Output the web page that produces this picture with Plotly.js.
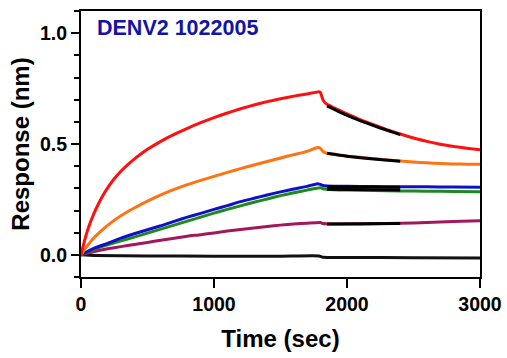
<!DOCTYPE html>
<html>
<head>
<meta charset="utf-8">
<script src="https://cdn.plot.ly/plotly-3.0.1.min.js"></script>
<style>html,body{margin:0;padding:0;background:#fff;}#chart{width:507px;height:358px;}</style>
</head>
<body>
<div id="chart"></div>
<script>
// ---- data (time in sec, response in nm) ----
var chartTitle = "DENV2 1022005";
var xTickVals = [0, 1000, 2000, 3000];
var yTickVals = [0, 0.5, 1.0];
var yTickText = ["0.0", "0.5", "1.0"];

var redT = [0, 25, 50, 100, 150, 200, 250, 300, 350, 400, 450, 500, 600, 700, 800, 900, 1000, 1100, 1200, 1300, 1400, 1500, 1600, 1700, 1790, 1800, 1810, 1820, 1840, 1900, 2000, 2100, 2200, 2300, 2400, 2500, 2600, 2700, 2800, 2900, 3000];
var redY = [0, 0.06, 0.112, 0.19, 0.252, 0.302, 0.343, 0.377, 0.406, 0.432, 0.455, 0.476, 0.512, 0.543, 0.571, 0.596, 0.619, 0.64, 0.659, 0.676, 0.691, 0.704, 0.716, 0.726, 0.736, 0.733, 0.715, 0.698, 0.683, 0.664, 0.636, 0.61, 0.587, 0.565, 0.545, 0.527, 0.512, 0.499, 0.489, 0.481, 0.474];

var orangeT = [0, 50, 100, 150, 200, 300, 400, 500, 600, 700, 800, 900, 1000, 1100, 1200, 1300, 1400, 1500, 1600, 1700, 1780, 1800, 1820, 1850, 1900, 2000, 2100, 2200, 2300, 2400, 2500, 2600, 2700, 2800, 2900, 3000];
var orangeY = [0, 0.043, 0.078, 0.107, 0.133, 0.176, 0.211, 0.242, 0.27, 0.295, 0.317, 0.336, 0.354, 0.372, 0.389, 0.405, 0.421, 0.437, 0.452, 0.467, 0.484, 0.481, 0.466, 0.458, 0.452, 0.445, 0.44, 0.434, 0.428, 0.423, 0.419, 0.415, 0.412, 0.41, 0.409, 0.409];

var blueT = [0, 100, 200, 300, 400, 500, 600, 700, 800, 900, 1000, 1100, 1200, 1300, 1400, 1500, 1600, 1700, 1780, 1800, 1820, 1850, 2000, 2200, 2400, 2600, 2800, 3000];
var blueY = [0, 0.03, 0.052, 0.075, 0.095, 0.113, 0.131, 0.151, 0.17, 0.187, 0.205, 0.222, 0.24, 0.255, 0.27, 0.284, 0.297, 0.309, 0.321, 0.318, 0.313, 0.311, 0.309, 0.308, 0.307, 0.307, 0.306, 0.305];

var greenT = [0, 100, 200, 300, 400, 500, 600, 700, 800, 900, 1000, 1100, 1200, 1300, 1400, 1500, 1600, 1700, 1800, 1820, 1900, 2000, 2200, 2400, 2600, 2800, 3000];
var greenY = [0, 0.025, 0.045, 0.063, 0.08, 0.098, 0.116, 0.134, 0.152, 0.17, 0.188, 0.205, 0.221, 0.237, 0.252, 0.267, 0.28, 0.292, 0.303, 0.298, 0.294, 0.292, 0.29, 0.288, 0.287, 0.286, 0.285];

var purpleT = [0, 100, 200, 300, 400, 500, 600, 700, 800, 900, 1000, 1100, 1200, 1300, 1400, 1500, 1600, 1700, 1800, 1820, 1900, 2000, 2200, 2400, 2600, 2800, 3000];
var purpleY = [0, 0.015, 0.027, 0.037, 0.047, 0.056, 0.066, 0.075, 0.084, 0.091, 0.099, 0.107, 0.114, 0.121, 0.128, 0.134, 0.139, 0.143, 0.146, 0.141, 0.139, 0.139, 0.14, 0.142, 0.146, 0.15, 0.154];

var baseT = [0, 100, 500, 1000, 1500, 1790, 1820, 2000, 2500, 3000];
var baseY = [0, -0.003, -0.005, -0.006, -0.006, -0.005, -0.011, -0.012, -0.013, -0.014];

// fitted dissociation curves (black)
var fitRedT = [1850, 1950, 2050, 2150, 2250, 2400];
var fitRedY = [0.672, 0.643, 0.617, 0.594, 0.572, 0.542];
var fitOrangeT = [1850, 2000, 2200, 2400];
var fitOrangeY = [0.458, 0.445, 0.432, 0.422];
var fitBlueT = [1850, 2400];
var fitBlueY = [0.307, 0.305];
var fitGreenT = [1850, 2400];
var fitGreenY = [0.296, 0.292];
var fitPurpleT = [1850, 2400];
var fitPurpleY = [0.139, 0.141];

function dataTrace(x, y, color) {
  return {x: x, y: y, type: 'scatter', mode: 'lines', line: {color: color, width: 3, shape: 'spline', smoothing: 0.5}, hoverinfo: 'skip', showlegend: false};
}
function fitTrace(x, y) {
  return {x: x, y: y, type: 'scatter', mode: 'lines', line: {color: '#000000', width: 3, shape: 'spline', smoothing: 0.5}, hoverinfo: 'skip', showlegend: false};
}

var traces = [
  dataTrace(baseT, baseY, '#111111'),
  dataTrace(purpleT, purpleY, '#a3185a'),
  dataTrace(greenT, greenY, '#1d8a1d'),
  dataTrace(blueT, blueY, '#1010c8'),
  dataTrace(orangeT, orangeY, '#ff7410'),
  dataTrace(redT, redY, '#ff1010'),
  fitTrace(fitRedT, fitRedY),
  fitTrace(fitOrangeT, fitOrangeY),
  fitTrace(fitBlueT, fitBlueY),
  fitTrace(fitGreenT, fitGreenY),
  fitTrace(fitPurpleT, fitPurpleY)
];

var tickFont = {family: 'Liberation Sans, Arial, sans-serif', size: 19.5, weight: 'bold', color: '#000'};
var titleFont = {family: 'Liberation Sans, Arial, sans-serif', size: 24, weight: 'bold', color: '#000'};

var layout = {
  width: 507, height: 358,
  margin: {l: 81, r: 27, t: 11, b: 81, pad: 0},
  paper_bgcolor: '#fff', plot_bgcolor: '#fff',
  title: {text: chartTitle, x: 97/507, xanchor: 'left', xref: 'container', y: 1 - 27/358, yanchor: 'middle', yref: 'container',
          font: {family: 'Liberation Sans, Arial, sans-serif', size: 21.5, weight: 'bold', color: '#1414a4'}},
  xaxis: {
    range: [0, 3000], tickmode: 'array', tickvals: xTickVals, ticktext: xTickVals.map(String),
    ticks: 'outside', ticklen: 9, tickwidth: 2, tickcolor: '#000',
    showline: true, linewidth: 2, linecolor: '#000', mirror: true,
    showgrid: false, zeroline: false, tickfont: tickFont,
    title: {text: 'Time (sec)', font: titleFont, standoff: 16}
  },
  yaxis: {
    range: [-0.1, 1.1], tickmode: 'array', tickvals: yTickVals, ticktext: yTickText,
    ticks: 'outside', ticklen: 8, tickwidth: 2, tickcolor: '#000',
    minor: {dtick: 0.1, tick0: 0, ticks: 'outside', ticklen: 5, tickwidth: 2, tickcolor: '#000', showgrid: false},
    showline: true, linewidth: 2, linecolor: '#000', mirror: true,
    showgrid: false, zeroline: false, tickfont: tickFont,
    title: {text: 'Response (nm)', font: titleFont, standoff: 4}
  }
};

Plotly.newPlot('chart', traces, layout, {displayModeBar: false, staticPlot: true});
</script>
</body>
</html>
